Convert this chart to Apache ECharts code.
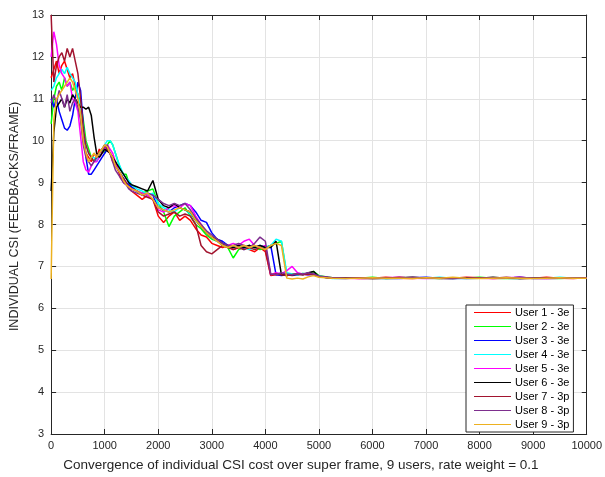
<!DOCTYPE html>
<html>
<head>
<meta charset="utf-8">
<script src="https://cdn.jsdelivr.net/npm/echarts@6/dist/echarts.min.js"></script>
<style>html,body{margin:0;padding:0;background:#fff}#c{width:605px;height:477px}</style>
</head>
<body>
<div id="c"></div>
<script>
// x positions (super frame index)
const X = [0,50,100,150,200,250,300,350,400,450,500,550,600,650,700,750,800,850,900,950,1000,1050,1100,1150,1200,1250,1300,1350,1400,1450,1500,
  1600,1700,1800,1900,2000,2100,2200,2300,2400,2500,2600,2700,2800,2900,3000,3100,3200,3300,3400,3500,3600,3700,3800,3900,4000,4100,4200,4300,4400,4500,4600,4700,4800,4900,5000,
  5250,5500,5750,6000,6250,6500,6750,7000,7250,7500,7750,8000,8250,8500,8750,9000,9250,9500,9750,10000];

const user1 = [11.5,11.7,11.9,11.6,11.8,11.9,11.7,11.5,11.6,11.3,11.1,10.6,10.0,9.7,9.6,9.5,9.7,9.6,9.8,9.7,9.9,9.8,9.7,9.5,9.4,9.3,9.1,9.1,9.0,8.9,8.8,
  8.7,8.6,8.7,8.6,8.2,8.05,8.2,8.3,8.1,8.2,8.1,7.9,7.75,7.7,7.55,7.5,7.45,7.5,7.4,7.45,7.5,7.4,7.35,7.45,7.35,6.78,6.8,6.82,6.8,6.78,6.8,6.82,6.8,6.83,6.76,
  6.72,6.73,6.71,6.72,6.74,6.72,6.71,6.73,6.72,6.72,6.74,6.73,6.71,6.72,6.73,6.72,6.74,6.72,6.71,6.73];
const user2 = [10.4,11.0,11.3,11.4,11.2,11.5,11.3,11.4,11.2,11.3,11.1,10.9,10.5,10.0,9.8,9.6,9.5,9.6,9.7,9.8,9.7,9.9,10.0,9.9,9.7,9.5,9.3,9.2,9.2,9.0,8.9,
  8.8,8.75,8.8,8.85,8.5,8.3,7.95,8.2,8.3,8.4,8.2,8.0,7.9,7.75,7.65,7.6,7.5,7.45,7.2,7.4,7.45,7.5,7.45,7.4,7.45,7.5,7.55,7.6,6.8,6.82,6.8,6.83,6.82,6.88,6.78,
  6.73,6.72,6.72,6.74,6.71,6.72,6.73,6.72,6.71,6.73,6.72,6.74,6.72,6.71,6.72,6.73,6.72,6.71,6.73,6.72];
const user3 = [11.0,10.8,11.0,10.7,10.5,10.3,10.25,10.35,10.6,11.0,11.4,11.2,10.4,9.6,9.2,9.2,9.3,9.4,9.5,9.6,9.7,9.8,9.7,9.6,9.5,9.3,9.2,9.1,9.0,8.95,8.9,
  8.8,8.7,8.75,8.7,8.4,8.35,8.3,8.4,8.45,8.5,8.45,8.3,8.1,8.05,7.8,7.65,7.6,7.5,7.45,7.5,7.4,7.5,7.45,7.5,7.45,7.5,6.8,6.78,6.8,6.79,6.8,6.82,6.8,6.81,6.75,
  6.72,6.71,6.73,6.72,6.72,6.71,6.73,6.74,6.72,6.71,6.72,6.73,6.72,6.72,6.74,6.71,6.72,6.73,6.72,6.72];
const user4 = [11.2,11.3,11.5,11.6,11.7,11.6,11.75,11.6,11.5,11.4,11.1,10.8,10.3,9.9,9.7,9.6,9.6,9.5,9.7,9.8,9.9,10.0,10.0,9.9,9.7,9.5,9.35,9.2,9.1,9.05,8.95,
  8.85,8.8,8.7,8.75,8.5,8.4,8.35,8.3,8.4,8.35,8.25,8.1,7.95,7.8,7.7,7.6,7.55,7.5,7.45,7.5,7.45,7.4,7.45,7.5,7.45,7.5,7.65,7.6,6.85,6.82,6.8,6.83,6.8,6.82,6.77,
  6.71,6.72,6.73,6.72,6.71,6.73,6.72,6.72,6.74,6.72,6.71,6.72,6.73,6.72,6.71,6.73,6.72,6.74,6.72,6.73];
const user5 = [12.0,12.6,12.3,11.8,11.6,11.5,11.3,11.4,11.0,10.9,10.7,10.1,9.5,9.3,9.25,9.4,9.5,9.5,9.6,9.7,9.8,9.9,9.8,9.7,9.5,9.3,9.2,9.0,8.95,8.9,8.85,
  8.8,8.75,8.7,8.6,8.35,8.3,8.4,8.45,8.4,8.5,8.45,8.2,8.0,7.8,7.7,7.6,7.55,7.5,7.55,7.5,7.6,7.65,7.5,7.45,7.5,6.8,6.85,6.82,6.9,7.0,6.85,6.82,6.8,6.82,6.75,
  6.73,6.72,6.71,6.72,6.73,6.74,6.72,6.71,6.72,6.73,6.72,6.72,6.71,6.73,6.74,6.72,6.71,6.72,6.73,6.72];
const user6 = [8.8,10.2,10.8,10.9,11.0,10.8,11.0,10.9,11.1,11.0,10.9,10.8,10.8,10.75,10.8,10.6,10.1,9.7,9.6,9.7,9.8,9.75,9.7,9.6,9.5,9.4,9.3,9.2,9.1,9.0,8.95,
  8.9,8.85,8.8,9.05,8.6,8.45,8.4,8.5,8.4,8.35,8.3,8.1,7.95,7.8,7.7,7.65,7.55,7.5,7.45,7.5,7.45,7.5,7.45,7.5,7.45,7.45,7.6,6.8,6.78,6.8,6.82,6.8,6.85,6.88,6.76,
  6.72,6.73,6.72,6.71,6.72,6.73,6.74,6.72,6.72,6.71,6.73,6.72,6.74,6.72,6.71,6.72,6.73,6.72,6.73,6.72];
const user7 = [13.0,11.4,11.8,12.0,12.1,11.9,12.2,12.0,12.2,11.9,11.6,11.0,10.3,9.9,9.7,9.6,9.5,9.6,9.7,9.8,9.9,9.8,9.7,9.6,9.4,9.3,9.2,9.1,9.0,8.9,8.85,
  8.8,8.7,8.65,8.6,8.3,8.2,8.25,8.3,8.2,8.25,8.2,8.0,7.5,7.35,7.3,7.4,7.5,7.45,7.4,7.45,7.4,7.45,7.4,7.45,7.4,6.8,6.82,6.8,6.78,6.8,6.82,6.8,6.82,6.8,6.76,
  6.72,6.72,6.73,6.71,6.72,6.74,6.72,6.73,6.71,6.72,6.72,6.73,6.72,6.74,6.71,6.72,6.73,6.72,6.72,6.73];
const user8 = [10.9,11.1,10.9,11.2,11.0,10.8,11.1,10.7,10.9,11.0,10.8,10.5,9.9,9.6,9.5,9.4,9.5,9.6,9.7,9.8,9.85,9.9,9.7,9.5,9.3,9.2,9.1,9.0,8.95,8.85,8.8,
  8.75,8.7,8.75,8.7,8.6,8.5,8.45,8.5,8.45,8.5,8.35,8.15,8.0,7.85,7.75,7.65,7.55,7.5,7.5,7.55,7.5,7.45,7.55,7.7,7.6,6.82,6.8,6.85,6.82,6.8,6.83,6.82,6.85,6.82,6.77,
  6.73,6.72,6.72,6.73,6.71,6.72,6.74,6.72,6.72,6.73,6.71,6.72,6.73,6.72,6.74,6.72,6.71,6.72,6.73,6.72];
const user9 = [6.7,10.5,11.0,11.1,11.2,11.3,11.4,11.5,11.4,11.2,11.0,10.6,10.0,9.7,9.5,9.6,9.7,9.6,9.7,9.8,9.9,9.85,9.7,9.6,9.4,9.3,9.2,9.05,8.95,8.9,8.85,
  8.8,8.7,8.75,8.6,8.4,8.35,8.3,8.35,8.4,8.35,8.3,8.1,7.95,7.8,7.7,7.6,7.5,7.45,7.5,7.45,7.5,7.45,7.5,7.45,7.4,7.5,7.55,7.5,6.72,6.7,6.72,6.7,6.75,6.78,6.74,
  6.72,6.71,6.72,6.73,6.72,6.72,6.71,6.73,6.72,6.74,6.72,6.71,6.72,6.73,6.72,6.71,6.72,6.73,6.72,6.72];

const names = ['User 1 - 3e','User 2 - 3e','User 3 - 3e','User 4 - 3e','User 5 - 3e','User 6 - 3e','User 7 - 3p','User 8 - 3p','User 9 - 3p'];
const colors = ['#ff0000','#00ff00','#0000ff','#00ffff','#ff00ff','#000000','#a2142f','#7e2f8e','#edb120'];
const values = [user1,user2,user3,user4,user5,user6,user7,user8,user9];
const xTicks = {min:0, max:10000, interval:1000};
const yTicks = {min:3, max:13, interval:1};

const axisColor = '#262626';
const font = 'Liberation Sans, Arial, Helvetica, sans-serif';
const chart = echarts.init(document.getElementById('c'), null, {renderer:'canvas'});
chart.setOption({
  animation:false,
  backgroundColor:'#fff',
  grid:{left:51,right:18,top:15,bottom:41,containLabel:false},
  legend:{
    data:names, orient:'vertical', left:466, top:305,
    backgroundColor:'#fff', borderColor:axisColor, borderWidth:1, borderRadius:0,
    padding:[2,4,2,8], itemGap:3, itemWidth:37, itemHeight:10,
    textStyle:{fontSize:11, color:'#000', fontFamily:font, padding:[0,0,0,-1]},
    icon:'path://M0,4.5 L37,4.5 L37,5.5 L0,5.5 Z'
  },
  xAxis:[{
    type:'value', min:xTicks.min, max:xTicks.max, interval:xTicks.interval,
    name:'Convergence of individual CSI cost over super frame, 9 users, rate weight = 0.1',
    nameLocation:'middle', nameGap:24,
    nameTextStyle:{fontSize:13.5, color:axisColor, fontFamily:font, padding:[0,36,0,0]},
    axisLine:{show:true, lineStyle:{color:axisColor, width:1}},
    axisTick:{show:true, inside:true, length:5, lineStyle:{color:axisColor}},
    axisLabel:{fontSize:11, color:axisColor, fontFamily:font, margin:6, formatter:(v)=>String(v)},
    splitLine:{show:true, lineStyle:{color:'#e3e3e3', width:1}}
  },{
    type:'value', position:'top', min:xTicks.min, max:xTicks.max, interval:xTicks.interval,
    axisLine:{show:true, onZero:false, lineStyle:{color:axisColor, width:1}},
    axisTick:{show:true, inside:true, length:5, lineStyle:{color:axisColor}},
    axisLabel:{show:false}, splitLine:{show:false}
  }],
  yAxis:[{
    type:'value', min:yTicks.min, max:yTicks.max, interval:yTicks.interval,
    name:'INDIVIDUAL CSI (FEEDBACKS/FRAME)', nameLocation:'middle', nameGap:23, nameRotate:90,
    nameTextStyle:{fontSize:12.5, color:axisColor, fontFamily:font, padding:[0,0,0,16]},
    axisLine:{show:true, lineStyle:{color:axisColor, width:1}},
    axisTick:{show:true, inside:true, length:5, lineStyle:{color:axisColor}},
    axisLabel:{fontSize:11, color:axisColor, fontFamily:font, margin:7},
    splitLine:{show:true, lineStyle:{color:'#e3e3e3', width:1}}
  },{
    type:'value', position:'right', min:yTicks.min, max:yTicks.max, interval:yTicks.interval,
    axisLine:{show:true, onZero:false, lineStyle:{color:axisColor, width:1}},
    axisTick:{show:true, inside:true, length:5, lineStyle:{color:axisColor}},
    axisLabel:{show:false}, splitLine:{show:false}
  }],
  series: values.map((v,i)=>({
    name:names[i], type:'line', symbol:'none', xAxisIndex:0, yAxisIndex:0,
    color:colors[i],
    lineStyle:{color:colors[i], width:1.5},
    data:X.map((x,j)=>[x, v[j]])
  }))
});
</script>
</body>
</html>
